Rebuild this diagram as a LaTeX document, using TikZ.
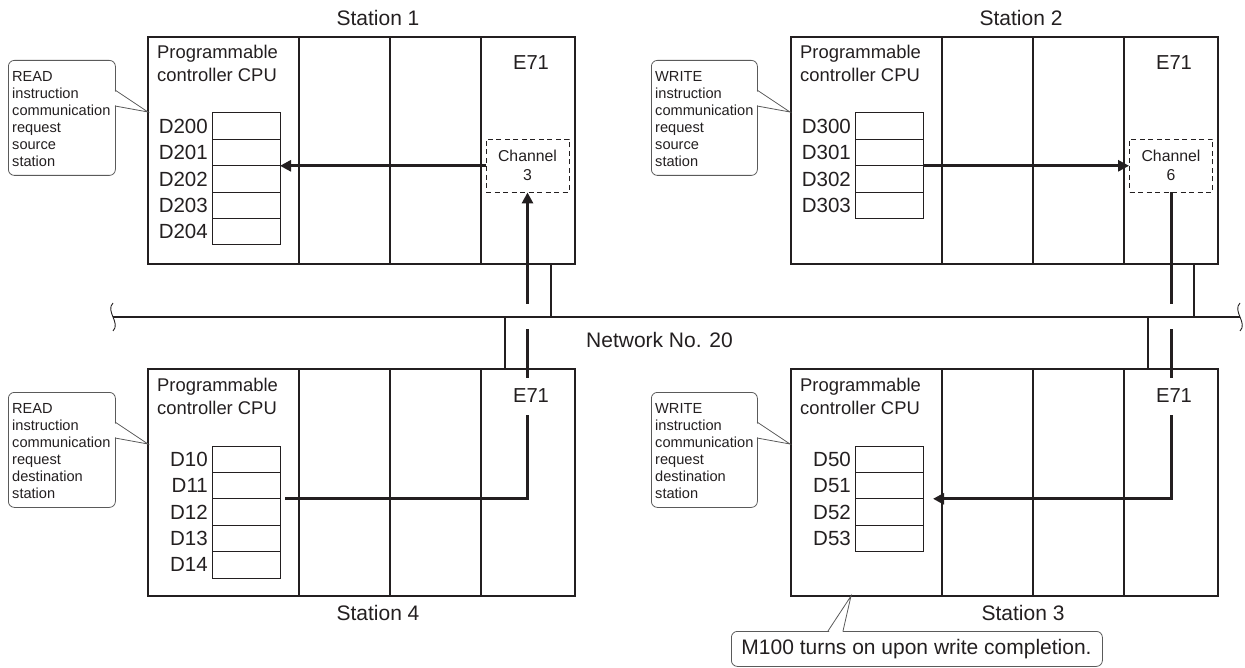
\documentclass[tikz,border=0pt]{standalone}
\usepackage{fontspec}
\setmainfont{Liberation Sans}
\usetikzlibrary{arrows.meta}
\definecolor{ink}{HTML}{231F20}
\definecolor{callgray}{HTML}{5A5A5A}
\begin{document}
\begin{tikzpicture}[x=1pt,y=-1pt,
  every node/.style={text=ink},
  frame/.style={draw=ink,line width=2pt},
  cell/.style={draw=ink,line width=1pt,minimum width=68pt,minimum height=26.4pt,inner sep=0pt,outer sep=0pt,anchor=north west},
  dlabel/.style={anchor=east,inner sep=0pt,font=\fontsize{20.5}{24}\selectfont},
  cputext/.style={anchor=north west,inner sep=0pt,align=left,font=\fontsize{18.4}{23}\selectfont},
  etext/.style={fill=white,inner xsep=2pt,inner ysep=0pt,minimum height=37pt,font=\fontsize{20.2}{24}\selectfont},
  chanbox/.style={draw=ink,line width=0.9pt,dash pattern=on 5pt off 3.5pt,minimum width=83pt,minimum height=53pt,inner sep=0pt,align=center,font=\fontsize{15.8}{19}\selectfont},
  flow/.style={draw=ink,line width=3pt,-{Triangle[length=11pt,width=11pt]}},
  flowplain/.style={draw=ink,line width=3pt},
  net/.style={draw=ink,line width=2pt},
  squig/.style={draw=ink,line width=0.9pt},
  callout/.style={draw=callgray,line width=0.8pt},
  callbox/.style={draw=callgray,line width=0.8pt,rounded corners=6pt,inner sep=0pt,anchor=north west},
  calltext/.style={anchor=north west,inner sep=0pt,align=left,font=\fontsize{14.6}{17}\selectfont},
  big/.style={font=\fontsize{21}{25}\selectfont,inner sep=0pt},
]
\useasboundingbox (0,0) rectangle (1245,668);

% ---- station frames ----
\draw[frame] (148,37) rectangle (575,264);
\foreach \x in {299,390,481} \draw[frame] (\x,37) -- (\x,264);
\draw[frame] (791,37) rectangle (1218,264);
\foreach \x in {942,1033,1124} \draw[frame] (\x,37) -- (\x,264);
\draw[frame] (148,369) rectangle (575,596);
\foreach \x in {299,390,481} \draw[frame] (\x,369) -- (\x,596);
\draw[frame] (791,369) rectangle (1218,596);
\foreach \x in {942,1033,1124} \draw[frame] (\x,369) -- (\x,596);

% ---- CPU texts ----
\node[cputext] (cpu1) at (157,45) {Programmable\\controller CPU};
\node[cputext] (cpu2) at (800,45) {Programmable\\controller CPU};
\node[cputext] (cpu4) at (157,378) {Programmable\\controller CPU};
\node[cputext] (cpu3) at (800,378) {Programmable\\controller CPU};

% ---- memory cells ----
\foreach \i/\lab in {0/D200,1/D201,2/D202,3/D203,4/D204}{
  \node[cell] (a\i) at (212,113+26.4*\i) {};
  \node[dlabel] (al\i) at ([xshift=-4pt]a\i.west) {\lab};
}
\foreach \i/\lab in {0/D300,1/D301,2/D302,3/D303}{
  \node[cell] (b\i) at (855,113+26.4*\i) {};
  \node[dlabel] (bl\i) at ([xshift=-4pt]b\i.west) {\lab};
}
\foreach \i/\lab in {0/D10,1/D11,2/D12,3/D13,4/D14}{
  \node[cell] (d\i) at (212,446+26.4*\i) {};
  \node[dlabel] (dl\i) at ([xshift=-4pt]d\i.west) {\lab};
}
\foreach \i/\lab in {0/D50,1/D51,2/D52,3/D53}{
  \node[cell] (c\i) at (855,446+26.4*\i) {};
  \node[dlabel] (cl\i) at ([xshift=-4pt]c\i.west) {\lab};
}

% ---- channel boxes ----
\node[chanbox] (ch3) at (527.5,165.5) {Channel\\3};
\node[chanbox] (ch6) at (1171,165.5) {Channel\\6};

% ---- data flows ----
\draw[flow] (ch3.west |- a1.south east) -- (a1.south east);
\draw[flow] ([xshift=5pt]d1.south east) -| (ch3.south);
\draw[flow] (b1.south east) -- (ch6.west |- b1.south east);
\draw[flow] (ch6.south) |- ([xshift=10pt]c1.south east);

% ---- E71 labels ----
\node[etext] (e1) at (531,63) {E71};
\node[etext] (e2) at (1174,63) {E71};
\node[etext] (e4) at (531,396) {E71};
\node[etext] (e3) at (1174,396) {E71};

% gaps of the flow lines at the network
\fill[white] (520,304) rectangle (536,329);
\fill[white] (1162,304) rectangle (1178,329);

% ---- network ----
\coordinate (nL) at (113,317);
\coordinate (nR) at (1240,317);
\draw[net] (nL) -- (nR);
\draw[squig] (113,303) .. controls (105,311) and (121,323) .. (113,331);
\draw[squig] (1240,303) .. controls (1232,311) and (1248,323) .. (1240,331);
\coordinate (s1b) at (551,264); \coordinate (s1n) at (551,317);
\coordinate (s4t) at (505,369); \coordinate (s4n) at (505,317);
\coordinate (s2b) at (1194,264); \coordinate (s2n) at (1194,317);
\coordinate (s3t) at (1148,369); \coordinate (s3n) at (1148,317);
\draw[net] (s1b) -- (s1n);
\draw[net] (s4n) -- (s4t);
\draw[net] (s2b) -- (s2n);
\draw[net] (s3n) -- (s3t);
\node[big] (netlab) at (659.5,340) {Network No. 20};

% ---- station labels ----
\node[big] (st1) at (378,18) {Station 1};
\node[big] (st2) at (1021,18) {Station 2};
\node[big] (st4) at (378,613) {Station 4};
\node[big] (st3) at (1023,613) {Station 3};

% ---- callouts ----
\node[callbox,minimum width=107pt,minimum height=115pt] (k1) at (8,60) {};
\fill[white] (114.2,90.8) -- (148,112) -- (114.2,105.2) -- cycle;
\coordinate (t1) at (148,112);
\draw[callout] (115,90) -- (t1) -- (115,106);
\node[calltext] (k1t) at (12,71.5) {READ\\instruction\\communication\\request\\source\\station};

\node[callbox,minimum width=106pt,minimum height=115pt] (k2) at (651,60) {};
\fill[white] (756.2,90.8) -- (790,112) -- (756.2,105.2) -- cycle;
\coordinate (t2) at (790,112);
\draw[callout] (757,90) -- (t2) -- (757,106);
\node[calltext] (k2t) at (655,71.5) {WRITE\\instruction\\communication\\request\\source\\station};

\node[callbox,minimum width=107pt,minimum height=115pt] (k4) at (8,392) {};
\fill[white] (114.2,422.8) -- (148,444) -- (114.2,437.2) -- cycle;
\coordinate (t4) at (148,444);
\draw[callout] (115,422) -- (t4) -- (115,438);
\node[calltext] (k4t) at (12,403.5) {READ\\instruction\\communication\\request\\destination\\station};

\node[callbox,minimum width=106pt,minimum height=115pt] (k3) at (651,392) {};
\fill[white] (756.2,422.8) -- (790,444) -- (756.2,437.2) -- cycle;
\coordinate (t3) at (790,444);
\draw[callout] (757,422) -- (t3) -- (757,438);
\node[calltext] (k3t) at (655,403.5) {WRITE\\instruction\\communication\\request\\destination\\station};

\node[callbox,minimum width=371pt,minimum height=35pt] (k5) at (731,631) {};
\fill[white] (829,632) -- (851,597) -- (842.5,632) -- cycle;
\coordinate (t5) at (851,596);
\draw[callout] (828,631) -- (t5) -- (843,631);
\node[big] (k5t) at (916.5,649) {M100 turns on upon write completion.};

\end{tikzpicture}
\end{document}
